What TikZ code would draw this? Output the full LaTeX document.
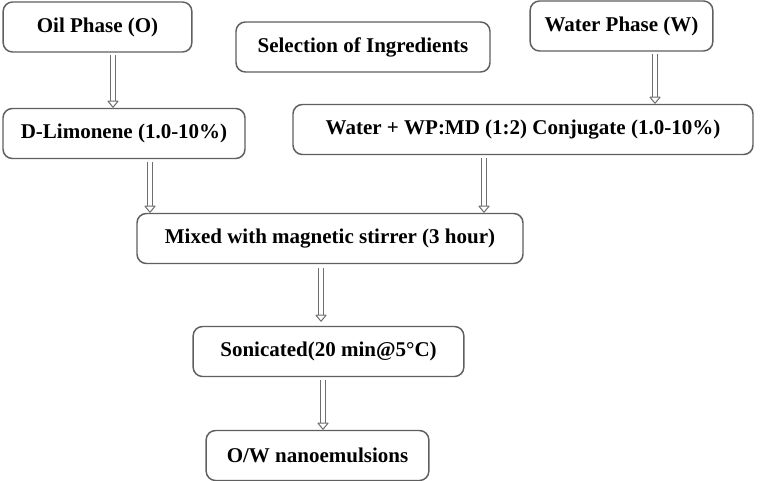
\documentclass[tikz,border=0pt]{standalone}
\usepackage{fontspec}
\setmainfont{Liberation Serif}
\usetikzlibrary{arrows.meta}
\definecolor{boxgray}{RGB}{95,95,95}
\definecolor{arrowgray}{RGB}{110,110,110}

\begin{document}
\begin{tikzpicture}[x=0.75pt,y=-0.75pt,
    stage/.style={draw=boxgray,line width=1.1pt,rounded corners=7pt,fill=white,
      minimum height=37.5pt,inner sep=0pt,
      font=\fontsize{15.75}{18}\selectfont\bfseries},
    flow/.style={draw=arrowgray,line width=0.75pt,double=white,double distance=3.6pt,
      -{Triangle[fill=white,width=9pt,length=5.5pt,line width=0.75pt,round]}}]
    \useasboundingbox (0,0) rectangle (767,481);
    \node[stage,minimum width=141.5pt] (oil) at (97.5,27) {Oil Phase (O)};
    \node[stage,minimum width=190.5pt] (select) at (363,47) {Selection of Ingredients};
    \node[stage,minimum width=137pt] (water) at (621.5,26) {Water Phase (W)};
    \node[stage,minimum width=181.5pt] (limonene) at (124,133.5) {D-Limonene (1.0-10\%)};
    \node[stage,minimum width=345pt] (conjugate) at (523,129.5) {Water + WP:MD (1:2) Conjugate (1.0-10\%)};
    \node[stage,minimum width=289.5pt] (mixed) at (330,238.5) {Mixed with magnetic stirrer (3 hour)};
    \node[stage,minimum width=203pt] (sonic) at (328.5,351.5) {Sonicated(20 min@5°C)};
    \node[stage,minimum width=167pt] (nano) at (317.5,455.5) {O/W nanoemulsions};
    \draw[flow] ([yshift=-2pt]oil.south -| 113,0) -- (limonene.north -| 113,0);
    \draw[flow] ([yshift=-2pt]water.south -| 655,0) -- (conjugate.north -| 655,0);
    \draw[flow] ([yshift=-2pt]limonene.south -| 150,0) -- (mixed.north -| 150,0);
    \draw[flow] ([yshift=-2pt]conjugate.south -| 484,0) -- (mixed.north -| 484,0);
    \draw[flow] ([yshift=-3pt]mixed.south -| 321,0) -- ([yshift=3pt]sonic.north -| 321,0);
    \draw[flow] ([yshift=-2pt]sonic.south -| 323,0) -- (nano.north -| 323,0);
\end{tikzpicture}
\end{document}
